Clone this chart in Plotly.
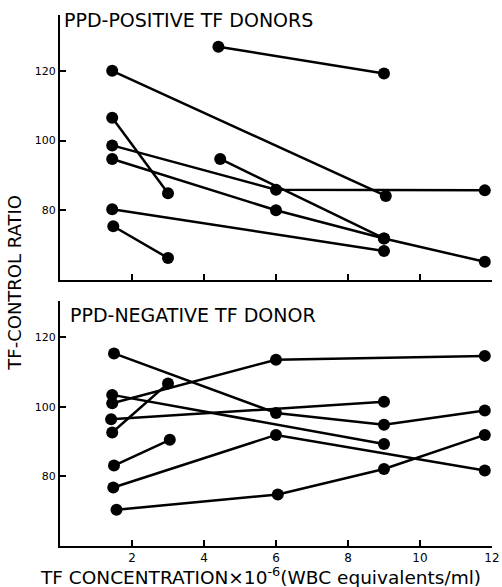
import plotly.graph_objects as go

# ---- Data ----
# PPD-positive TF donors (top panel): one list per donor
pos_x = [
    [4.4, 9.0],
    [1.45, 9.05],
    [1.45, 3.0],
    [1.45, 6.0, 11.8],
    [1.45, 6.0, 9.0, 11.8],
    [4.45, 9.0],
    [1.45, 9.0],
    [1.48, 3.0],
]
pos_y = [
    [126.9, 119.2],
    [120.0, 84.1],
    [106.5, 84.9],
    [98.6, 85.9, 85.7],
    [94.7, 80.0, 71.9, 65.2],
    [94.7, 71.9],
    [80.3, 68.3],
    [75.4, 66.3],
]

# PPD-negative TF donor (bottom panel)
neg_x = [
    [1.5, 6.0, 9.0, 11.8],
    [1.45, 9.0],
    [1.45, 6.0, 11.8],
    [1.42, 9.0],
    [1.45, 3.0],
    [1.5, 3.05],
    [1.48, 6.0, 11.8],
    [1.57, 6.05, 9.0, 11.8],
]
neg_y = [
    [115.3, 98.2, 94.8, 98.9],
    [103.4, 89.3],
    [101.0, 113.5, 114.6],
    [96.4, 101.4],
    [92.6, 106.7],
    [83.1, 90.5],
    [76.8, 91.9, 81.7],
    [70.4, 74.8, 82.1, 91.9],
]

x_ticks = [2, 4, 6, 8, 10, 12]
y_ticks = [80, 100, 120]

FONT = "DejaVu Sans"

fig = go.Figure()

for xs, ys in zip(pos_x, pos_y):
    fig.add_trace(go.Scatter(
        x=xs, y=ys, xaxis="x2", yaxis="y2", mode="lines+markers",
        line=dict(color="black", width=2.5),
        marker=dict(color="black", size=12),
        showlegend=False, cliponaxis=False))

for xs, ys in zip(neg_x, neg_y):
    fig.add_trace(go.Scatter(
        x=xs, y=ys, xaxis="x", yaxis="y", mode="lines+markers",
        line=dict(color="black", width=2.5),
        marker=dict(color="black", size=12),
        showlegend=False, cliponaxis=False))

axis_common = dict(
    showline=True, linecolor="black", linewidth=2,
    ticks="inside", ticklen=6, tickwidth=2, tickcolor="black",
    showgrid=False, zeroline=False, automargin=False,
)

fig.update_layout(
    width=502, height=587,
    margin=dict(l=60, r=10, t=15, b=41),
    paper_bgcolor="white", plot_bgcolor="white",
    font=dict(family=FONT, color="black"),
    hovermode=False,
    xaxis=dict(domain=[0, 1], range=[0, 12], anchor="y",
               tickvals=x_ticks, ticktext=[str(v) for v in x_ticks],
               tickfont=dict(size=12, family=FONT), **axis_common),
    yaxis=dict(domain=[0, 0.4623], range=[60, 130.5], anchor="x",
               tickvals=y_ticks, tickfont=dict(size=11, family=FONT),
               **axis_common),
    xaxis2=dict(domain=[0, 1], range=[0, 12], anchor="y2",
                tickvals=x_ticks, showticklabels=False, **axis_common),
    yaxis2=dict(domain=[0.501, 1.0], range=[60, 136], anchor="x2",
                tickvals=y_ticks, tickfont=dict(size=11, family=FONT),
                **axis_common),
    annotations=[
        dict(text="PPD-POSITIVE TF DONORS", xref="paper", yref="paper",
             x=0.005, y=0.9906, xanchor="left", yanchor="middle",
             showarrow=False, font=dict(size=19, family=FONT)),
        dict(text="PPD-NEGATIVE TF DONOR", xref="paper", yref="paper",
             x=0.0185, y=0.435, xanchor="left", yanchor="middle",
             showarrow=False, font=dict(size=19, family=FONT)),
        dict(text="TF CONCENTRATION×10<sup>-6</sup>(WBC equivalents/ml)",
             xref="paper", yref="paper", x=0.463, y=-0.0556,
             xanchor="center", yanchor="middle", showarrow=False,
             font=dict(size=18.5, family=FONT)),
        dict(text="TF-CONTROL RATIO", xref="paper", yref="paper",
             x=-0.104, y=0.496, xanchor="center", yanchor="middle",
             textangle=-90, showarrow=False,
             font=dict(size=18, family=FONT)),
    ],
)

# remove the browser's default body margin so the figure fills the window exactly
fig.write_html("out.html",
               config={"displayModeBar": False, "staticPlot": True},
               post_script="document.body.style.margin='0px';"
                           "document.body.style.overflow='hidden';")
